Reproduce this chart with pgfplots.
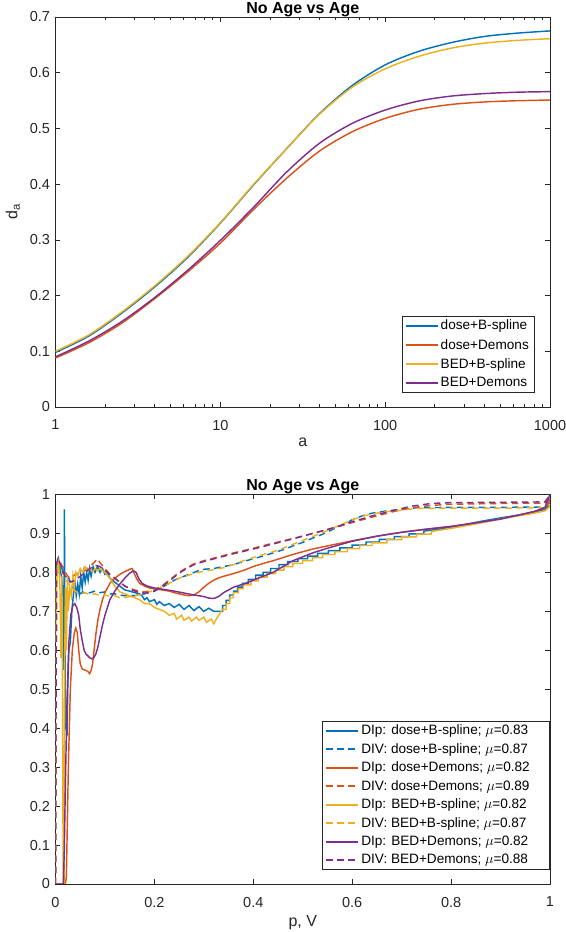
\documentclass[border=0pt]{standalone}
\usepackage{pgfplots}
\pgfplotsset{compat=1.18}
\usepackage{fontspec}
\setmainfont{Liberation Sans}
\definecolor{mblue}{rgb}{0,0.447,0.741}
\definecolor{mred}{rgb}{0.85,0.325,0.098}
\definecolor{myellow}{rgb}{0.929,0.694,0.125}
\definecolor{mpurple}{rgb}{0.494,0.184,0.556}
\definecolor{axgray}{rgb}{0.15,0.15,0.15}
\pgfplotsset{
  mstyle/.style={
    scale only axis, width=494.5bp,
    axis line style={axgray, line width=0.6bp},
    tick style={axgray, line width=0.6bp},
    major tick length=5bp, minor tick length=3bp,
    tick align=inside, xtick pos=both, ytick pos=both,
    xticklabel pos=lower, yticklabel pos=left,
    ticklabel style={font=\fontsize{14.5bp}{17bp}\selectfont, text=axgray},
    xticklabel style={yshift=-9.5bp},
    yticklabel style={xshift=-2bp},
    label style={font=\fontsize{16bp}{19bp}\selectfont, text=axgray},
    xlabel style={yshift=-1bp},
    ylabel style={yshift=3bp},
    title style={font=\bfseries\fontsize{16bp}{19bp}\selectfont, at={(0.5,1)}, anchor=base, yshift=-2bp},
    every axis plot/.append style={line width=1.45bp},
    legend cell align=left,
    legend image code/.code={\draw[##1, line width=2bp] (0bp,0bp) -- (32bp,0bp);},
  },
  dsh/.style={dash pattern=on 6.5bp off 4.5bp},
}
\newcommand{\rpad}{\rule{14bp}{0pt}}
\begin{document}
\begin{tikzpicture}
\useasboundingbox (0,0) rectangle (566bp,932bp);
% ---------------- top axis ----------------
\begin{axis}[mstyle,
  at={(55.5bp,525bp)}, anchor=south west, height=390bp,
  xmode=log, xmin=1, xmax=1000, ymin=0, ymax=0.7,
  xtick={1,10,100,1000}, xticklabels={1,10,100,1000},
  ytick={0,0.1,0.2,0.3,0.4,0.5,0.6,0.7},
  yticklabels={0,0.1,0.2,0.3,0.4,0.5,0.6,0.7},
  xlabel={a}, ylabel={d\textsubscript{a}},
  title={No Age vs Age},
  legend style={at={(1,0)}, anchor=south east, xshift=-16bp, yshift=15bp,
    font=\fontsize{13.6bp}{16bp}\selectfont, draw=axgray,
    inner xsep=3bp, inner ysep=1.5bp, row sep=3.8bp},
]
\addplot[mblue, smooth] coordinates {(1,0.098)(1.5849,0.127)(2.5119,0.168)(3.9811,0.215)(6.3096,0.268)(10,0.330)(15.849,0.398)(25.119,0.463)(39.811,0.526)(63.096,0.577)(100,0.614)(158.49,0.638)(251.19,0.654)(398.11,0.665)(630.96,0.671)(1000,0.675)};
\addlegendentry{dose+B-spline}
\addplot[mred, smooth] coordinates {(1,0.088)(1.5849,0.115)(2.5119,0.150)(3.9811,0.194)(6.3096,0.242)(10,0.294)(15.849,0.354)(25.119,0.410)(39.811,0.459)(63.096,0.494)(100,0.518)(158.49,0.534)(251.19,0.543)(398.11,0.5475)(630.96,0.5497)(1000,0.551)};
\addlegendentry{dose+Demons}
\addplot[myellow, smooth] coordinates {(1,0.100)(1.5849,0.129)(2.5119,0.170)(3.9811,0.217)(6.3096,0.270)(10,0.331)(15.849,0.399)(25.119,0.463)(39.811,0.525)(63.096,0.574)(100,0.607)(158.49,0.629)(251.19,0.644)(398.11,0.653)(630.96,0.658)(1000,0.661)};
\addlegendentry{BED+B-spline}
\addplot[mpurple, smooth] coordinates {(1,0.090)(1.5849,0.118)(2.5119,0.153)(3.9811,0.196)(6.3096,0.245)(10,0.299)(15.849,0.358)(25.119,0.421)(39.811,0.473)(63.096,0.509)(100,0.533)(158.49,0.549)(251.19,0.558)(398.11,0.5625)(630.96,0.565)(1000,0.566)};
\addlegendentry{BED+Demons}
\end{axis}
% ---------------- bottom axis ----------------
\begin{axis}[mstyle,
  at={(55.5bp,48bp)}, anchor=south west, height=389.5bp,
  xmin=0, xmax=1, ymin=0, ymax=1,
  xtick={0,0.2,0.4,0.6,0.8,1}, xticklabels={0,0.2,0.4,0.6,0.8,1},
  ytick={0,0.1,0.2,0.3,0.4,0.5,0.6,0.7,0.8,0.9,1},
  yticklabels={0,0.1,0.2,0.3,0.4,0.5,0.6,0.7,0.8,0.9,1},
  xlabel={p, V},
  title={No Age vs Age},
  legend style={at={(1,0)}, anchor=south east, xshift=-1bp, yshift=15bp,
    font=\fontsize{13.6bp}{16bp}\selectfont, draw=axgray,
    inner xsep=3bp, inner ysep=1.5bp, row sep=3.2bp},
]
% DIp dose+B-spline
\addplot[mblue] coordinates {(0,0.74)(0.003,0.82)(0.006,0.835)(0.009,0.81)(0.012,0.79)(0.015,0.75)(0.017,0.55)(0.018,0.962)(0.0195,0.55)(0.021,0.40)(0.0235,0.39)(0.025,0.52)(0.027,0.60)(0.030,0.62)(0.033,0.70)(0.036,0.74)(0.039,0.78)(0.042,0.74)(0.045,0.77)(0.048,0.745)(0.051,0.79)(0.054,0.76)(0.057,0.80)(0.060,0.775)(0.063,0.80)(0.066,0.78)(0.069,0.81)(0.072,0.79)(0.076,0.815)(0.080,0.80)(0.085,0.815)(0.090,0.80)(0.095,0.81)(0.100,0.795)(0.105,0.80)(0.11,0.785)(0.12,0.775)(0.13,0.765)(0.14,0.755)(0.15,0.752)(0.16,0.748)(0.17,0.745)(0.175,0.74)(0.18,0.73)(0.185,0.735)(0.19,0.725)(0.20,0.73)(0.205,0.718)(0.21,0.725)(0.22,0.715)(0.23,0.72)(0.24,0.71)(0.25,0.718)(0.26,0.705)(0.27,0.715)(0.28,0.702)(0.29,0.712)(0.30,0.70)(0.31,0.708)(0.32,0.70)(0.333,0.70)(0.338,0.70)(0.338,0.715)(0.345,0.715)(0.345,0.728)(0.352,0.728)(0.352,0.742)(0.360,0.742)(0.360,0.752)(0.368,0.752)(0.368,0.762)(0.378,0.762)(0.378,0.772)(0.390,0.772)(0.390,0.782)(0.405,0.782)(0.405,0.793)(0.420,0.793)(0.420,0.800)(0.435,0.800)(0.435,0.810)(0.452,0.810)(0.452,0.820)(0.470,0.820)(0.470,0.828)(0.490,0.828)(0.490,0.835)(0.510,0.835)(0.510,0.842)(0.530,0.842)(0.530,0.849)(0.552,0.849)(0.552,0.856)(0.575,0.856)(0.575,0.863)(0.600,0.863)(0.600,0.870)(0.628,0.870)(0.628,0.878)(0.655,0.878)(0.655,0.885)(0.685,0.885)(0.685,0.892)(0.715,0.892)(0.715,0.899)(0.745,0.899)(0.745,0.906)(0.78,0.912)(0.82,0.921)(0.86,0.931)(0.90,0.94)(0.94,0.948)(0.97,0.955)(0.99,0.962)(1.0,0.975)};
\addlegendentry{DIp: dose+B-spline; $\mu$=0.83\rpad}
% DIV dose+B-spline
\addplot[mblue, dsh] coordinates {(0,0)(0.002,0.78)(0.005,0.83)(0.009,0.82)(0.013,0.81)(0.017,0.80)(0.022,0.79)(0.027,0.785)(0.032,0.77)(0.036,0.76)(0.04,0.755)(0.045,0.75)(0.05,0.745)(0.055,0.75)(0.06,0.745)(0.07,0.748)(0.08,0.752)(0.09,0.748)(0.10,0.75)(0.11,0.745)(0.12,0.745)(0.13,0.742)(0.14,0.74)(0.15,0.742)(0.16,0.74)(0.17,0.743)(0.18,0.745)(0.19,0.748)(0.20,0.752)(0.21,0.758)(0.22,0.765)(0.23,0.772)(0.24,0.78)(0.25,0.785)(0.26,0.79)(0.27,0.795)(0.28,0.80)(0.29,0.805)(0.30,0.808)(0.32,0.81)(0.34,0.815)(0.36,0.82)(0.38,0.828)(0.40,0.835)(0.42,0.842)(0.44,0.85)(0.46,0.858)(0.48,0.868)(0.50,0.877)(0.52,0.888)(0.54,0.898)(0.56,0.91)(0.58,0.922)(0.60,0.935)(0.62,0.945)(0.64,0.952)(0.67,0.958)(0.70,0.962)(0.73,0.966)(0.8,0.967)(0.9,0.967)(0.99,0.968)(1.0,0.98)};
\addlegendentry{DIV: dose+B-spline; $\mu$=0.87\rpad}
% DIp dose+Demons
\addplot[mred] coordinates {(0,0)(0.020,0)(0.022,0.02)(0.026,0.30)(0.030,0.50)(0.034,0.60)(0.038,0.645)(0.041,0.657)(0.044,0.645)(0.047,0.60)(0.050,0.565)(0.054,0.552)(0.058,0.550)(0.062,0.548)(0.066,0.545)(0.069,0.54)(0.072,0.548)(0.075,0.565)(0.078,0.60)(0.082,0.645)(0.086,0.68)(0.09,0.705)(0.095,0.73)(0.10,0.748)(0.11,0.772)(0.12,0.785)(0.13,0.795)(0.14,0.802)(0.15,0.808)(0.155,0.81)(0.16,0.795)(0.165,0.782)(0.17,0.772)(0.18,0.765)(0.19,0.76)(0.20,0.758)(0.21,0.756)(0.22,0.754)(0.23,0.752)(0.24,0.748)(0.25,0.745)(0.26,0.742)(0.27,0.74)(0.28,0.742)(0.29,0.75)(0.30,0.762)(0.31,0.772)(0.32,0.78)(0.33,0.786)(0.34,0.79)(0.36,0.797)(0.38,0.805)(0.40,0.815)(0.42,0.823)(0.44,0.83)(0.46,0.838)(0.48,0.846)(0.50,0.853)(0.52,0.86)(0.55,0.868)(0.60,0.881)(0.65,0.893)(0.70,0.903)(0.75,0.911)(0.80,0.918)(0.85,0.927)(0.90,0.937)(0.94,0.948)(0.97,0.957)(0.99,0.966)(1.0,0.985)};
\addlegendentry{DIp: dose+Demons; $\mu$=0.82\rpad}
% DIV dose+Demons
\addplot[mred, dsh] coordinates {(0,0)(0.002,0.80)(0.005,0.835)(0.008,0.83)(0.012,0.82)(0.016,0.81)(0.02,0.80)(0.025,0.79)(0.03,0.785)(0.035,0.79)(0.04,0.795)(0.05,0.80)(0.06,0.805)(0.07,0.815)(0.08,0.828)(0.085,0.835)(0.09,0.825)(0.10,0.81)(0.11,0.795)(0.12,0.785)(0.13,0.775)(0.14,0.765)(0.15,0.76)(0.16,0.755)(0.17,0.752)(0.18,0.75)(0.19,0.752)(0.20,0.755)(0.21,0.762)(0.22,0.77)(0.23,0.78)(0.24,0.79)(0.25,0.80)(0.26,0.808)(0.27,0.815)(0.28,0.822)(0.30,0.83)(0.33,0.84)(0.36,0.85)(0.40,0.862)(0.44,0.875)(0.48,0.887)(0.52,0.9)(0.56,0.913)(0.60,0.928)(0.64,0.942)(0.68,0.955)(0.72,0.966)(0.76,0.972)(0.80,0.975)(0.9,0.977)(0.99,0.978)(1.0,0.99)};
\addlegendentry{DIV: dose+Demons; $\mu$=0.89\rpad}
% DIp BED+B-spline
\addplot[myellow] coordinates {(0,0.62)(0.003,0.80)(0.006,0.835)(0.009,0.76)(0.011,0.58)(0.013,0.79)(0.0145,0.40)(0.0155,0)(0.0175,0)(0.0185,0.55)(0.020,0.76)(0.022,0.60)(0.024,0.79)(0.026,0.70)(0.029,0.76)(0.032,0.74)(0.035,0.79)(0.038,0.76)(0.041,0.80)(0.045,0.79)(0.05,0.81)(0.055,0.80)(0.06,0.815)(0.065,0.805)(0.07,0.81)(0.075,0.80)(0.08,0.81)(0.085,0.805)(0.09,0.81)(0.10,0.80)(0.11,0.785)(0.12,0.765)(0.13,0.75)(0.14,0.745)(0.15,0.74)(0.16,0.735)(0.17,0.73)(0.18,0.72)(0.19,0.72)(0.20,0.71)(0.21,0.705)(0.22,0.70)(0.23,0.69)(0.24,0.695)(0.245,0.68)(0.255,0.69)(0.26,0.677)(0.27,0.685)(0.275,0.675)(0.285,0.685)(0.29,0.677)(0.30,0.685)(0.305,0.672)(0.315,0.68)(0.32,0.668)(0.325,0.68)(0.33,0.69)(0.335,0.70)(0.338,0.705)(0.345,0.705)(0.345,0.72)(0.352,0.72)(0.352,0.735)(0.36,0.735)(0.36,0.748)(0.37,0.748)(0.37,0.758)(0.38,0.758)(0.38,0.768)(0.395,0.768)(0.395,0.778)(0.41,0.778)(0.41,0.788)(0.428,0.788)(0.428,0.797)(0.445,0.797)(0.445,0.806)(0.462,0.806)(0.462,0.815)(0.48,0.815)(0.48,0.823)(0.50,0.823)(0.50,0.830)(0.52,0.830)(0.52,0.838)(0.54,0.838)(0.54,0.846)(0.565,0.846)(0.565,0.853)(0.59,0.853)(0.59,0.861)(0.615,0.861)(0.615,0.869)(0.64,0.869)(0.64,0.876)(0.67,0.876)(0.67,0.884)(0.70,0.884)(0.70,0.891)(0.73,0.891)(0.73,0.898)(0.76,0.898)(0.76,0.905)(0.80,0.913)(0.84,0.922)(0.88,0.932)(0.92,0.942)(0.96,0.95)(0.99,0.958)(1.0,0.97)};
\addlegendentry{DIp: BED+B-spline; $\mu$=0.82\rpad}
% DIV BED+B-spline
\addplot[myellow, dsh] coordinates {(0,0)(0.002,0.76)(0.005,0.825)(0.009,0.82)(0.013,0.80)(0.018,0.79)(0.022,0.78)(0.027,0.77)(0.032,0.76)(0.037,0.755)(0.042,0.75)(0.05,0.745)(0.06,0.748)(0.07,0.742)(0.08,0.745)(0.09,0.74)(0.10,0.742)(0.11,0.738)(0.12,0.74)(0.13,0.735)(0.14,0.735)(0.15,0.738)(0.16,0.74)(0.17,0.742)(0.18,0.745)(0.19,0.75)(0.20,0.755)(0.21,0.76)(0.22,0.766)(0.23,0.772)(0.24,0.778)(0.25,0.785)(0.26,0.79)(0.27,0.793)(0.28,0.797)(0.29,0.80)(0.30,0.803)(0.32,0.807)(0.34,0.812)(0.36,0.82)(0.38,0.83)(0.40,0.838)(0.42,0.846)(0.44,0.853)(0.46,0.862)(0.48,0.872)(0.50,0.882)(0.52,0.892)(0.54,0.902)(0.56,0.913)(0.58,0.924)(0.60,0.935)(0.62,0.944)(0.64,0.95)(0.67,0.956)(0.70,0.96)(0.73,0.964)(0.8,0.965)(0.9,0.965)(0.99,0.966)(1.0,0.975)};
\addlegendentry{DIV: BED+B-spline; $\mu$=0.87\rpad}
% DIp BED+Demons
\addplot[mpurple] coordinates {(0,0)(0.016,0)(0.018,0.10)(0.020,0.26)(0.023,0.45)(0.027,0.62)(0.031,0.69)(0.035,0.715)(0.039,0.72)(0.043,0.71)(0.047,0.69)(0.050,0.655)(0.054,0.625)(0.058,0.60)(0.062,0.59)(0.066,0.585)(0.070,0.58)(0.074,0.578)(0.078,0.582)(0.082,0.592)(0.086,0.61)(0.09,0.635)(0.095,0.665)(0.10,0.69)(0.105,0.71)(0.11,0.73)(0.12,0.752)(0.13,0.77)(0.14,0.785)(0.15,0.798)(0.158,0.804)(0.163,0.80)(0.168,0.785)(0.175,0.772)(0.185,0.765)(0.20,0.76)(0.22,0.756)(0.24,0.752)(0.26,0.747)(0.28,0.742)(0.30,0.738)(0.31,0.734)(0.32,0.733)(0.33,0.738)(0.34,0.748)(0.35,0.755)(0.36,0.762)(0.38,0.77)(0.40,0.78)(0.42,0.79)(0.44,0.80)(0.46,0.815)(0.48,0.83)(0.50,0.84)(0.52,0.85)(0.55,0.862)(0.60,0.88)(0.65,0.893)(0.70,0.903)(0.75,0.911)(0.80,0.918)(0.85,0.927)(0.90,0.937)(0.94,0.948)(0.97,0.957)(0.99,0.967)(1.0,1.0)};
\addlegendentry{DIp: BED+Demons; $\mu$=0.82\rpad}
% DIV BED+Demons
\addplot[mpurple, dsh] coordinates {(0,0)(0.002,0.82)(0.005,0.838)(0.01,0.82)(0.015,0.80)(0.02,0.79)(0.03,0.775)(0.04,0.78)(0.05,0.79)(0.06,0.80)(0.07,0.81)(0.08,0.818)(0.09,0.815)(0.10,0.805)(0.11,0.795)(0.12,0.785)(0.13,0.775)(0.14,0.765)(0.15,0.758)(0.16,0.752)(0.17,0.748)(0.18,0.747)(0.19,0.748)(0.20,0.752)(0.21,0.76)(0.22,0.768)(0.23,0.778)(0.24,0.788)(0.25,0.798)(0.26,0.806)(0.27,0.813)(0.28,0.82)(0.30,0.828)(0.33,0.838)(0.36,0.848)(0.40,0.86)(0.44,0.873)(0.48,0.886)(0.52,0.9)(0.56,0.914)(0.60,0.93)(0.64,0.945)(0.68,0.958)(0.72,0.97)(0.76,0.977)(0.80,0.979)(0.9,0.98)(0.99,0.981)(1.0,1.0)};
\addlegendentry{DIV: BED+Demons; $\mu$=0.88\rpad}
\end{axis}
\end{tikzpicture}
\end{document}
